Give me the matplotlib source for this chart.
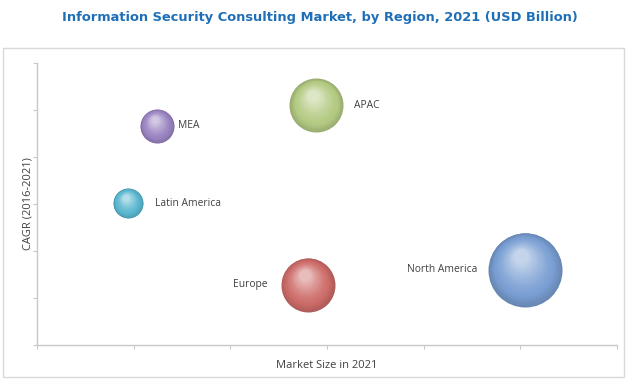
import numpy as np
import matplotlib
matplotlib.use('Agg')
import matplotlib.pyplot as plt
from matplotlib.colors import to_rgb
from matplotlib.transforms import ScaledTranslation
from matplotlib.patches import Rectangle

# data (axis units are unlabelled, 0-6 grid)
regions = ['North America', 'Europe', 'APAC', 'MEA', 'Latin America']
market_size = [5.05, 2.80, 2.89, 1.24, 0.94]
cagr = [1.60, 1.28, 5.10, 4.66, 3.02]
bubble_size = [37, 27, 27, 17, 15]

colors = ['#7a9fd3', '#cd6c69', '#b3ca82', '#9a84c1', '#58b6cf']
# label offset in px (dx, dy) and alignment
label_pos = [(-48, 0, 'right'), (-40, 0, 'right'), (38, 0, 'left'),
             (21, 0, 'left'), (27, 0, 'left')]


def blend(c1, c2, t):
    c1 = np.array(to_rgb(c1)); c2 = np.array(to_rgb(c2))
    return tuple(c1 + (c2 - c1) * t)


def sphere(ax, x, y, r_px, color, dpi):
    """draw a shaded ball as stacked circles shrinking towards a highlight"""
    edge = blend(color, 'black', 0.15)
    light = blend(color, 'white', 0.55)
    hx, hy = -0.12 * r_px, 0.36 * r_px
    n = 40
    for t in np.linspace(0, 1, n):
        r = r_px * (1 - 0.8 * t)
        dx, dy = hx * t, hy * t
        if t < 0.25:
            c = blend(edge, color, t / 0.25)
        else:
            c = blend(color, light, ((t - 0.25) / 0.75) ** 1.3)
        tr = ax.transData + ScaledTranslation(dx / dpi, dy / dpi, ax.figure.dpi_scale_trans)
        d_pt = 2 * r * 72.0 / dpi
        ax.scatter([x], [y], s=d_pt ** 2, color=c, lw=0, transform=tr, zorder=3)


def main():
    dpi = 100
    fig = plt.figure(figsize=(6.4, 3.79), dpi=dpi)
    fig.patches.append(Rectangle((3 / 640, 2 / 379), 621 / 640, 329 / 379,
                                 transform=fig.transFigure, fill=False,
                                 edgecolor='#d9d9d9', lw=1))
    ax = fig.add_axes([37 / 640, 34 / 379, 580 / 640, 282 / 379])
    ax.set_xlim(0, 6)
    ax.set_ylim(0, 6)
    ax.set_xticks(range(7))
    ax.set_yticks(range(7))
    ax.set_xticklabels([])
    ax.set_yticklabels([])
    for s in ['top', 'right']:
        ax.spines[s].set_visible(False)
    for s in ['left', 'bottom']:
        ax.spines[s].set_color('#c8c8c8')
        ax.spines[s].set_linewidth(1)
    ax.tick_params(direction='out', length=3, color='#c8c8c8')

    for i in range(len(regions)):
        sphere(ax, market_size[i], cagr[i], bubble_size[i], colors[i], dpi)
        dx, dy, ha = label_pos[i]
        ax.annotate(regions[i], (market_size[i], cagr[i]),
                    xytext=(dx * 0.72, dy * 0.72), textcoords='offset points',
                    ha=ha, va='center', fontsize=7.4, color='#404040',
                    family='Open Sans', zorder=4)

    fig.text(327 / 640, 1 - 366 / 379, 'Market Size in 2021', ha='center', va='center',
             fontsize=8, color='#404040', family='Open Sans')
    fig.text(28 / 640, 1 - 204 / 379, 'CAGR (2016-2021)', ha='center', va='center',
             rotation=90, fontsize=8, color='#404040', family='Open Sans')

    fig.text(320 / 640, 1 - 17 / 379, 'Information Security Consulting Market, by Region, 2021 (USD Billion)',
             ha='center', va='center', fontsize=9.4, fontweight='bold',
             color='#1e6fb8', family='Liberation Sans Narrow')

    fig.savefig('out.png', dpi=dpi)


if __name__ == '__main__':
    main()
